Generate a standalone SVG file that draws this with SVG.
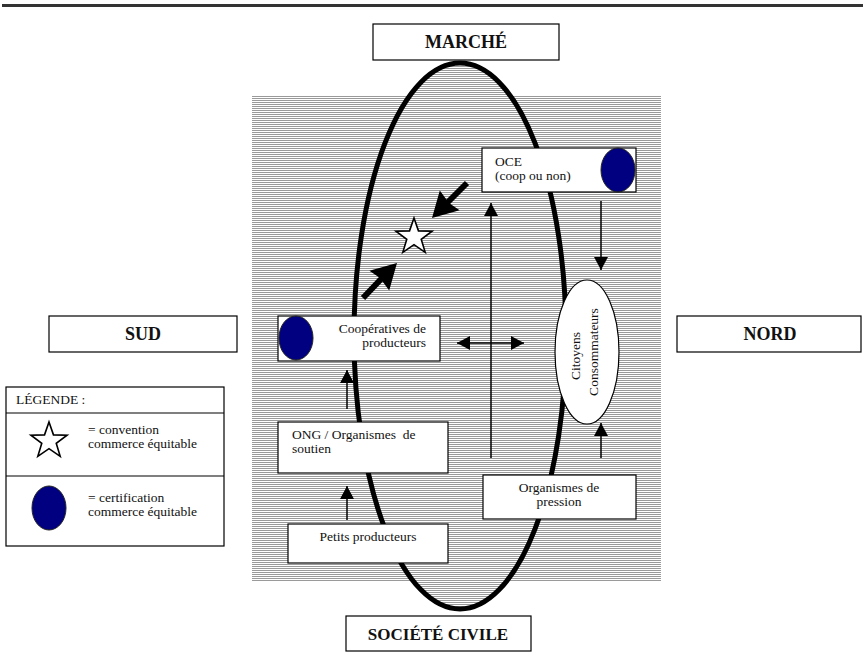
<svg xmlns="http://www.w3.org/2000/svg" width="863" height="668" viewBox="0 0 863 668">
<style>
.box{fill:#fff;stroke:#000;stroke-width:1.2}
.t{font-family:"Liberation Serif","Times New Roman",serif;font-size:13.5px;fill:#111}
.b{font-family:"Liberation Serif","Times New Roman",serif;font-weight:bold;font-size:18px;fill:#111}
.ln{stroke:#000;stroke-width:1.5;fill:none}
.blue{fill:#000080;stroke:#222;stroke-width:1}
.star{fill:#fff;stroke:#000;stroke-width:1.6;stroke-linejoin:miter}
.thick{stroke:#000;stroke-width:6;fill:none}
</style>
<defs>
<pattern id="hatch" patternUnits="userSpaceOnUse" width="4" height="2">
<rect x="0" y="0" width="4" height="2" fill="#fff"/>
<rect x="0" y="0" width="4" height="1" fill="#9a9a9a"/>
</pattern>
<marker id="ah" viewBox="0 0 13 14" refX="13" refY="7" markerWidth="13" markerHeight="14" markerUnits="userSpaceOnUse" orient="auto-start-reverse">
<path d="M0,0 L13,7 L0,14 z" fill="#000"/>
</marker>
<polygon id="starShape" points="0,-19 4.47,-6.15 18.07,-5.87 7.23,2.35 11.17,15.37 0,7.6 -11.17,15.37 -7.23,2.35 -18.07,-5.87 -4.47,-6.15"/>
</defs>

<rect x="2" y="4" width="861" height="3" fill="#333"/>

<g id="background">
<rect x="252" y="95" width="409" height="487" fill="url(#hatch)"/>
<ellipse cx="460" cy="336" rx="106" ry="273" fill="url(#hatch)" stroke="#000" stroke-width="5"/>
</g>

<g id="marche"><rect class="box" x="373" y="24" width="186" height="36"/><text class="b" x="466" y="48" text-anchor="middle">MARCHÉ</text></g>
<g id="societe"><rect class="box" x="346" y="616" width="185" height="35"/><text class="b" x="438" y="640" text-anchor="middle" style="font-size:17px">SOCIÉTÉ CIVILE</text></g>
<g id="sud"><rect class="box" x="49" y="316" width="188" height="36"/><text class="b" x="143" y="340" text-anchor="middle">SUD</text></g>
<g id="nord"><rect class="box" x="677" y="316" width="184" height="36"/><text class="b" x="770" y="340" text-anchor="middle">NORD</text></g>

<g id="oce"><rect class="box" x="482" y="148" width="154" height="44"/>
<ellipse class="blue" cx="618" cy="170" rx="17" ry="22"/>
<text class="t" x="495" y="166">OCE</text><text class="t" x="495" y="180">(coop ou non)</text></g>

<g id="citoyens"><ellipse fill="#fff" stroke="#000" stroke-width="1.2" cx="587" cy="352" rx="32" ry="72"/>
<text class="t" transform="translate(580,356) rotate(-90)" text-anchor="middle">Citoyens</text>
<text class="t" transform="translate(598,352) rotate(-90)" text-anchor="middle">Consommateurs</text></g>

<g id="pression"><rect class="box" x="483" y="475" width="153" height="44"/>
<text class="t" x="559" y="492" text-anchor="middle">Organismes de</text><text class="t" x="559" y="506" text-anchor="middle">pression</text></g>

<g id="coop"><rect class="box" x="278" y="316" width="162" height="45"/>
<ellipse class="blue" cx="296" cy="338" rx="17" ry="22"/>
<text class="t" x="426" y="333" text-anchor="end">Coopératives de</text><text class="t" x="426" y="347" text-anchor="end">producteurs</text></g>

<g id="ong"><rect class="box" x="278" y="422" width="170" height="51"/>
<text class="t" x="292" y="439" xml:space="preserve">ONG / Organismes  de</text><text class="t" x="292" y="453">soutien</text></g>

<g id="petits"><rect class="box" x="288" y="524" width="160" height="39"/>
<text class="t" x="368" y="541" text-anchor="middle">Petits producteurs</text></g>

<g id="convention"><use href="#starShape" class="star" transform="translate(414,237)"/></g>

<g id="legende">
<rect class="box" x="6" y="387" width="218" height="159"/>
<line x1="6" y1="413" x2="224" y2="413" stroke="#000" stroke-width="1.2"/>
<line x1="6" y1="476" x2="224" y2="476" stroke="#000" stroke-width="1.2"/>
<text class="t" x="16" y="404">LÉGENDE :</text>
<use href="#starShape" class="star" transform="translate(49,441)"/>
<text class="t" x="88" y="434">= convention</text><text class="t" x="88" y="448">commerce équitable</text>
<ellipse class="blue" cx="49" cy="508" rx="17" ry="22"/>
<text class="t" x="88" y="502">= certification</text><text class="t" x="88" y="516">commerce équitable</text>
</g>

<g id="connectors">
<line class="ln" x1="601" y1="201" x2="601" y2="270" marker-end="url(#ah)"/>
<line class="ln" x1="491" y1="458" x2="491" y2="203" marker-end="url(#ah)"/>
<line class="ln" x1="601" y1="458" x2="601" y2="423" marker-end="url(#ah)"/>
<line class="ln" x1="457" y1="343" x2="524" y2="343" marker-start="url(#ah)" marker-end="url(#ah)"/>
<line class="ln" x1="347" y1="409" x2="347" y2="370" marker-end="url(#ah)"/>
<line class="ln" x1="347" y1="520" x2="347" y2="486" marker-end="url(#ah)"/>
<line class="thick" x1="467" y1="183" x2="446" y2="204"/>
<polygon points="432,218 439.8,190.4 449,203 459.6,210.2" fill="#000"/>
<line class="thick" x1="363" y1="298" x2="383" y2="277"/>
<polygon points="397,263 389.2,290.6 380,278 369.4,270.8" fill="#000"/>
</g>
</svg>
